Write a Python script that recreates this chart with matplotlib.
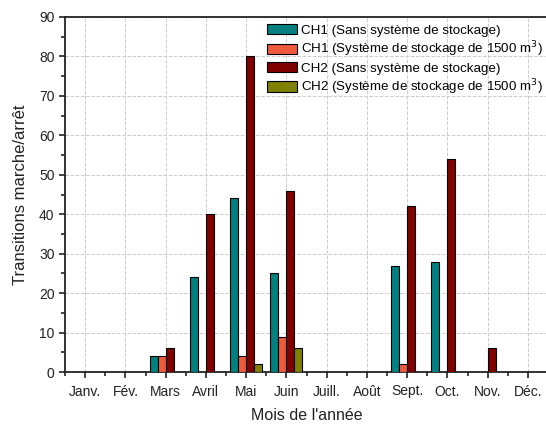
import numpy as np
import matplotlib.pyplot as plt
from matplotlib.ticker import MultipleLocator

plt.rcParams['font.family'] = ['Liberation Sans', 'DejaVu Sans']

# Data
months = ['Janv.', 'Fév.', 'Mars', 'Avril', 'Mai', 'Juin',
          'Juill.', 'Août', 'Sept.', 'Oct.', 'Nov.', 'Déc.']
ch1_sans = [0, 0, 4, 24, 44, 25, 0, 0, 27, 28, 0, 0]
ch1_1500 = [0, 0, 4, 0, 4, 9, 0, 0, 2, 0, 0, 0]
ch2_sans = [0, 0, 6, 40, 80, 46, 0, 0, 42, 54, 6, 0]
ch2_1500 = [0, 0, 0, 0, 2, 6, 0, 0, 0, 0, 0, 0]

series = [
    (ch1_sans, '#008080', 'CH1 (Sans système de stockage)'),
    (ch1_1500, '#EF5A3D', 'CH1 (Système de stockage de 1500 m$^3$)'),
    (ch2_sans, '#800000', 'CH2 (Sans système de stockage)'),
    (ch2_1500, '#808000', 'CH2 (Système de stockage de 1500 m$^3$)'),
]

x = np.arange(1, len(months) + 1)
w = 0.2

fig = plt.figure(figsize=(5.46, 4.24), dpi=100)
ax = fig.add_axes([65/546, 52/424, 483/546, 355/424])

for i, (vals, col, lab) in enumerate(series):
    v = np.array(vals, dtype=float)
    m = v > 0
    ax.bar(x[m] + (i - 1.5) * w, v[m], width=w, color=col,
           edgecolor='black', linewidth=0.8, label=lab, zorder=3)

ax.set_xlim(0.5, 12.5)
ax.set_ylim(0, 90)
ax.set_xticks(x)
ax.set_xticklabels(months)
ax.set_xticks(np.arange(0.5, 13, 1), minor=True)
ax.yaxis.set_major_locator(MultipleLocator(10))
ax.yaxis.set_minor_locator(MultipleLocator(5))
ax.tick_params(which='both', direction='out', width=1.2, labelsize=10,
               colors='#222222')
ax.tick_params(which='major', length=4)
ax.tick_params(which='minor', length=3)
ax.tick_params(axis='x', which='major', pad=5)
ax.grid(True, which='major', color='#cccccc', linestyle='--',
        linewidth=0.7, zorder=0)
for s in ax.spines.values():
    s.set_linewidth(1.3)
    s.set_color('#222222')

ax.set_ylabel('Transitions marche/arrêt', fontsize=12, color='#222222',
              labelpad=8)
ax.set_xlabel("Mois de l'année", fontsize=11.5, color='#222222', labelpad=7)

ax.legend(loc='upper left', bbox_to_anchor=(267/546, 1 - 24/424),
          bbox_transform=fig.transFigure, frameon=False, fontsize=9.6,
          handlelength=2.25, handleheight=0.83, handletextpad=0.3,
          labelspacing=0.2, borderaxespad=0, borderpad=0)

fig.savefig('out.png', dpi=100)
